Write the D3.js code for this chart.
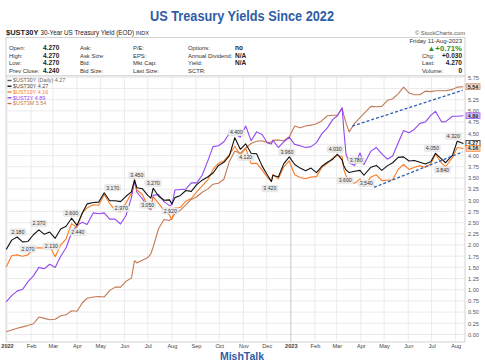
<!DOCTYPE html>
<html><head><meta charset="utf-8">
<script src="https://cdn.jsdelivr.net/npm/d3@7"></script>
<style>
body{margin:0;background:#fff;}
svg{display:block;font-family:"Liberation Sans",Arial,sans-serif;}
</style>
</head><body>
<svg id="c" width="485" height="360"></svg>
<script>
// ---------------- DATA ----------------
const dates = ["2021-12-31","2022-01-07","2022-01-14","2022-01-21","2022-01-28","2022-02-04","2022-02-11","2022-02-18","2022-02-25","2022-03-04",
"2022-03-11","2022-03-18","2022-03-25","2022-04-01","2022-04-08","2022-04-14","2022-04-22","2022-04-29","2022-05-06","2022-05-13",
"2022-05-20","2022-05-27","2022-06-03","2022-06-10","2022-06-14","2022-06-17","2022-06-24","2022-07-01","2022-07-05","2022-07-08",
"2022-07-15","2022-07-22","2022-07-29","2022-08-01","2022-08-05","2022-08-12","2022-08-19","2022-08-26","2022-09-02","2022-09-09",
"2022-09-16","2022-09-23","2022-09-30","2022-10-07","2022-10-14","2022-10-21","2022-10-28","2022-11-04","2022-11-11","2022-11-18",
"2022-11-25","2022-12-02","2022-12-07","2022-12-09","2022-12-16","2022-12-23","2022-12-30","2023-01-06","2023-01-13","2023-01-20",
"2023-01-27","2023-02-03","2023-02-10","2023-02-17","2023-02-24","2023-03-02","2023-03-08","2023-03-10","2023-03-13","2023-03-17",
"2023-03-24","2023-03-31","2023-04-05","2023-04-14","2023-04-21","2023-04-28","2023-05-05","2023-05-12","2023-05-19","2023-05-26",
"2023-06-02","2023-06-09","2023-06-16","2023-06-23","2023-06-30","2023-07-06","2023-07-14","2023-07-19","2023-07-28","2023-08-03",
"2023-08-11"];

const ust30y = [1.90,2.11,2.18,2.07,2.08,2.23,2.34,2.24,2.29,2.15,
2.36,2.42,2.60,2.44,2.72,2.92,2.95,2.96,3.17,2.99,
2.99,2.97,3.09,3.19,3.45,3.28,3.26,3.11,3.05,3.27,
3.09,3.00,3.01,2.92,3.06,3.11,3.22,3.20,3.35,3.45,
3.52,3.61,3.78,3.85,4.00,4.40,4.14,4.26,4.05,4.04,
3.77,3.56,3.42,3.56,3.52,3.82,3.97,3.80,3.72,3.66,
3.72,3.62,3.76,3.85,3.92,4.03,3.90,3.78,3.68,3.62,
3.65,3.67,3.56,3.74,3.78,3.67,3.77,3.84,3.96,3.97,
3.88,3.89,3.85,3.81,3.86,4.05,3.92,3.84,4.01,4.32,
4.27];

const ust10y = [1.51,1.76,1.78,1.75,1.78,1.93,1.94,1.93,1.97,1.74,
2.00,2.14,2.48,2.39,2.72,2.83,2.90,2.89,3.13,2.93,
2.78,2.74,2.94,3.15,3.48,3.23,3.13,2.88,2.81,3.08,
2.93,2.77,2.67,2.57,2.83,2.84,2.98,3.04,3.19,3.32,
3.45,3.69,3.83,3.88,4.02,4.21,4.02,4.16,3.82,3.83,
3.68,3.51,3.42,3.58,3.48,3.75,3.88,3.57,3.51,3.48,
3.52,3.53,3.74,3.82,3.95,4.00,3.98,3.70,3.55,3.43,
3.38,3.48,3.31,3.52,3.57,3.44,3.45,3.46,3.69,3.80,
3.69,3.74,3.77,3.74,3.81,4.03,3.83,3.75,3.96,4.18,
4.16];

const ust2y = [0.73,0.87,0.97,1.01,1.18,1.31,1.50,1.47,1.57,1.50,
1.75,1.94,2.27,2.44,2.51,2.46,2.72,2.70,2.72,2.58,
2.58,2.47,2.66,3.06,3.43,3.18,3.04,2.84,2.79,3.11,
3.13,2.97,2.88,2.90,3.23,3.24,3.25,3.39,3.39,3.56,
3.87,4.20,4.22,4.31,4.50,4.48,4.41,4.66,4.33,4.53,
4.47,4.28,4.26,4.34,4.18,4.31,4.41,4.25,4.22,4.18,
4.20,4.29,4.49,4.62,4.81,4.89,5.07,4.60,4.03,3.84,
3.78,4.06,3.80,4.10,4.18,4.04,3.92,3.99,4.28,4.56,
4.51,4.59,4.72,4.75,4.90,4.99,4.75,4.76,4.88,4.88,
4.89];

const ust3m = [0.06,0.10,0.14,0.17,0.20,0.24,0.39,0.36,0.33,0.34,
0.42,0.44,0.53,0.52,0.71,0.81,0.84,0.85,0.84,0.98,
1.06,1.06,1.19,1.26,1.65,1.60,1.66,1.72,1.80,1.96,
2.37,2.57,2.55,2.60,2.70,2.78,2.90,3.02,3.08,3.18,
3.25,3.36,3.38,3.47,3.87,4.10,4.05,4.17,4.27,4.32,
4.33,4.29,4.30,4.34,4.35,4.33,4.42,4.66,4.62,4.66,
4.68,4.71,4.78,4.89,4.90,4.90,5.06,4.91,4.73,4.53,
4.72,4.85,4.94,5.10,5.09,5.10,5.23,5.27,5.38,5.53,
5.40,5.36,5.36,5.44,5.43,5.45,5.45,5.45,5.48,5.53,
5.54];

const seriesNames = ["$UST30Y","$UST10Y","$UST2Y","$UST3M"];
const lastValues = ["4.27","4.16","4.89","5.54"];
const yTickValues = d3.range(0, 5.76, 0.25);

// annotated highs / lows of the 30Y line: [date, value]
const highLabels = [["2022-01-15",2.18],["2022-02-11",2.37],["2022-03-25",2.60],["2022-05-17",3.17],["2022-06-17",3.45],
  ["2022-07-08",3.27],["2022-10-23",4.40],["2022-12-27",3.96],["2023-02-27",4.03],["2023-03-26",3.78],
  ["2023-07-02",4.05],["2023-07-29",4.32]];
const lowLabels = [["2022-01-28",2.07],["2022-02-27",2.13],["2022-04-02",2.44],["2022-05-28",2.97],["2022-07-01",3.05],
  ["2022-07-30",2.92],["2022-11-04",4.12],["2022-12-05",3.42],["2023-03-12",3.60],["2023-04-08",3.54],["2023-07-15",3.84]];

// dashed trend lines: [[startDate,startValue],[endDate,endValue]]
const trendLines = [[["2023-03-21",4.66],["2023-08-10",5.46]],
                    [["2023-04-18",3.29],["2023-08-10",4.08]]];

// header info table
const infoCols = [
  {labels:["Open:","High:","Low:","Prev Close:"], values:["4.270","4.270","4.270","4.240"]},
  {labels:["Ask:","Ask Size:","Bid:","Bid Size:"], values:["","","",""]},
  {labels:["P/E:","EPS:","Mkt Cap:","Last Size:"], values:["","","",""]},
  {labels:["Options:","Annual Dividend:","Yield:","SCTR:"], values:["no","N/A","N/A",""]}
];
const rightInfoLabels = ["Chg:","Last:","Volume:"];
const rightInfoValues = ["+0.030","4.270","0"];

// ---------------- DRAW ----------------
const svg = d3.select("#c");
const parse = d3.utcParse("%Y-%m-%d");
const D = dates.map(parse);

const colors = {"$UST30Y":"#111111","$UST10Y":"#fb7b22","$UST2Y":"#9447f0","$UST3M":"#c27a55"};
const allSeries = [ust30y, ust10y, ust2y, ust3m];

const L = 6, R = 465, T = 76, B = 342;
const x = d3.scaleUtc().domain([parse("2022-01-01"), parse("2023-08-13")]).range([7, 465]);
const y = d3.scaleLinear().domain([0, 5.75]).range([334.5, 77.3]);

// Title
svg.append("text").attr("x", 242).attr("y", 21).attr("text-anchor","middle")
  .attr("font-size", 14).attr("font-weight","bold").attr("fill","#2f5ca6")
  .attr("textLength", 184).attr("lengthAdjust","spacingAndGlyphs")
  .text("US Treasury Yields Since 2022");

// header line
const hdr = svg.append("text").attr("x", 6).attr("y", 34.5).attr("fill","#222");
hdr.append("tspan").attr("font-weight","bold").attr("font-size",7.5).text("$UST30Y ");
hdr.append("tspan").attr("font-size",6.3).text("30-Year US Treasury Yield (EOD) ");
hdr.append("tspan").attr("font-size",5.5).text("INDX");
svg.append("text").attr("x", 465).attr("y", 34.5).attr("text-anchor","end")
  .attr("font-size",5.8).attr("fill","#555").text("© StockCharts.com");

// info box
svg.append("rect").attr("x", L).attr("y", 37.5).attr("width", R-L).attr("height", 38.5)
  .attr("fill","#fff").attr("stroke","#c8c8c8").attr("stroke-width",0.8);
const rowY = [50, 57.5, 65, 72.5];
const colX = [{l:9, v:43}, {l:80, v:null}, {l:133, v:null}, {l:188, v:235}];
infoCols.forEach((c, ci) => {
  c.labels.forEach((lab, ri) => {
    svg.append("text").attr("x", colX[ci].l).attr("y", rowY[ri]).attr("font-size",5.9).attr("fill","#333").text(lab);
    if (c.values[ri]) svg.append("text").attr("x", colX[ci].v).attr("y", rowY[ri]).attr("font-size",6.5)
      .attr("font-weight","bold").attr("fill","#222").text(c.values[ri]);
  });
});
svg.append("text").attr("x", 462).attr("y", 42.8).attr("text-anchor","end").attr("font-size",6).attr("fill","#333").text("Friday  11-Aug-2023");
svg.append("text").attr("x", 462).attr("y", 51).attr("text-anchor","end").attr("font-size",7.8).attr("font-weight","bold").attr("fill","#2e8b2e").text("▲+0.71%");
rightInfoLabels.forEach((lab, i) => {
  svg.append("text").attr("x", 422).attr("y", rowY[i+1]).attr("font-size",5.9).attr("fill","#333").text(lab);
  svg.append("text").attr("x", 462).attr("y", rowY[i+1]).attr("text-anchor","end").attr("font-size",6.5)
    .attr("font-weight","bold").attr("fill","#222").text(rightInfoValues[i]);
});

// chart frame
svg.append("rect").attr("x", L).attr("y", T).attr("width", R-L).attr("height", B-T)
  .attr("fill","#fff").attr("stroke","#c8c8c8").attr("stroke-width",0.8);

// gridlines
const months = d3.utcMonth.range(parse("2022-01-01"), parse("2023-08-02"));
svg.append("g").selectAll("line").data(yTickValues).join("line")
  .attr("x1", L).attr("x2", R).attr("y1", d => y(d)).attr("y2", d => y(d))
  .attr("stroke","#e6e6e6").attr("stroke-width",0.8);
svg.append("g").selectAll("line").data(months).join("line")
  .attr("x1", d => x(d)).attr("x2", d => x(d)).attr("y1", T).attr("y2", B)
  .attr("stroke", d => d.getUTCMonth()===0 && d.getUTCFullYear()===2023 ? "#bdbdbd" : "#e6e6e6")
  .attr("stroke-width",0.8);

// axes
const xAxis = d3.axisBottom(x).tickValues(months).tickSize(0).tickPadding(2.5)
  .tickFormat(d => d.getUTCMonth()===0 ? d3.utcFormat("%Y")(d) : d3.utcFormat("%b")(d));
const gx = svg.append("g").attr("transform", `translate(0,${B})`).call(xAxis);
gx.select(".domain").remove();
gx.selectAll("text").attr("font-size",5.6).attr("fill","#444")
  .attr("font-weight", d => d.getUTCMonth()===0 ? "bold" : "normal");
// axis labels hidden behind the last-value tags are left out
const tagYs = lastValues.map(v => y(+v));
const visibleYTicks = yTickValues.filter(t => tagYs.every(ty => Math.abs(y(t) - ty) > 4.5));
const yAxis = d3.axisRight(y).tickValues(visibleYTicks).tickSize(0).tickPadding(3).tickFormat(d3.format(".2f"));
const gy = svg.append("g").attr("transform", `translate(${R},0)`).call(yAxis);
gy.select(".domain").remove();
gy.selectAll("text").attr("font-size",5.6).attr("fill","#555");

// lines
const line = d3.line().x((d,i) => x(D[i])).y(d => y(d));
const drawOrder = [3, 2, 1, 0];
drawOrder.forEach(si => {
  svg.append("path").datum(allSeries[si]).attr("d", line)
    .attr("fill","none").attr("stroke", colors[seriesNames[si]]).attr("stroke-width",1.1)
    .attr("stroke-linejoin","round");
});

// trend lines
trendLines.forEach(t => {
  svg.append("line").attr("x1", x(parse(t[0][0]))).attr("y1", y(t[0][1]))
    .attr("x2", x(parse(t[1][0]))).attr("y2", y(t[1][1]))
    .attr("stroke","#2f5fb3").attr("stroke-width",1.3).attr("stroke-dasharray","3,2");
});

// annotation labels
function drawLabel(dateStr, v, dy) {
  const cx = x(parse(dateStr)), cy = y(v) + dy;
  const g = svg.append("g");
  g.append("rect").attr("x", cx-8).attr("y", cy-3.2).attr("width",16).attr("height",6.4)
    .attr("rx",1).attr("fill","#ececec").attr("stroke","#d6d6d6").attr("stroke-width",0.4);
  g.append("text").attr("x", cx).attr("y", cy+1.8).attr("text-anchor","middle")
    .attr("font-size",5.2).attr("fill","#333").text(d3.format(".3f")(v));
}
highLabels.forEach(h => drawLabel(h[0], h[1], -5));
lowLabels.forEach(h => drawLabel(h[0], h[1], 7));

// right value tags
const tagOrder = [3, 2, 0, 1];
tagOrder.forEach(si => {
  const v = +lastValues[si], c = colors[seriesNames[si]];
  const cy = y(v);
  svg.append("rect").attr("x", R+1).attr("y", cy-2.9).attr("width",14).attr("height",5.8)
    .attr("fill", si===0 ? "#fff" : d3.interpolateRgb("#ffffff", c)(0.3)).attr("stroke", c).attr("stroke-width",0.7);
  svg.append("text").attr("x", R+8).attr("y", cy+1.9).attr("text-anchor","middle")
    .attr("font-size",5.3).attr("font-weight","bold").attr("fill","#222").text(lastValues[si]);
});

// legend
const legendRows = [
  {name:"$UST30Y (Daily) 4.27", color:"#555", text:"#666"},
  {name:"$UST30Y 4.27", color:colors["$UST30Y"], text:"#444"},
  {name:"$UST10Y 4.16", color:colors["$UST10Y"], text:colors["$UST10Y"]},
  {name:"$UST2Y 4.89", color:colors["$UST2Y"], text:colors["$UST2Y"]},
  {name:"$UST3M 5.54", color:colors["$UST3M"], text:colors["$UST3M"]}
];
legendRows.forEach((r, i) => {
  const cy = 80.5 + i*5.75;
  svg.append("line").attr("x1",7.5).attr("x2",11.5).attr("y1",cy).attr("y2",cy).attr("stroke",r.color).attr("stroke-width",1.4);
  svg.append("text").attr("x",13).attr("y",cy+1.9).attr("font-size",5.4).attr("fill",r.text).text(r.name);
});

// footer
svg.append("text").attr("x", 242).attr("y", 359.5).attr("text-anchor","middle")
  .attr("font-size",10.5).attr("font-weight","bold").attr("fill","#2f5ca6").text("MishTalk");
</script>
</body></html>
